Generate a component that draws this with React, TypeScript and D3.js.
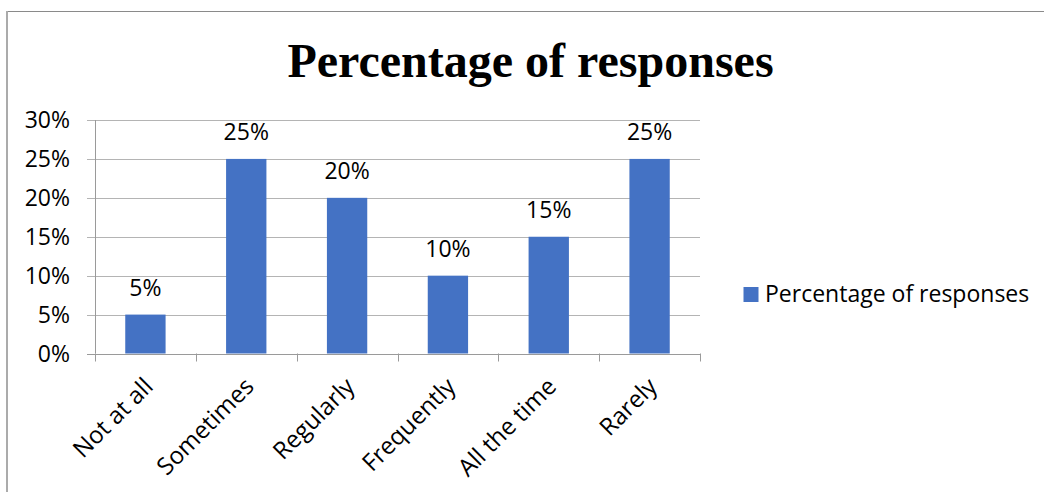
import React from "react";
import * as d3 from "d3";

// Survey categories and the share of responses for each
const categories: string[] = ["Not at all", "Sometimes", "Regularly", "Frequently", "All the time", "Rarely"];
const responseShares: number[] = [0.05, 0.25, 0.2, 0.1, 0.15, 0.25];
const yTicks: number[] = [0, 0.05, 0.1, 0.15, 0.2, 0.25, 0.3];
const seriesName = "Percentage of responses";
const chartTitle = "Percentage of responses";

const W = 1044;
const H = 492;
const plot = { left: 95, right: 700, top: 120, bottom: 353.5 };
const BAR = "#4472C4";
const GRID = "#b4b4b4";
const AXIS = "#9a9a9a";
const SANS = "'Open Sans', sans-serif";
const fmt = d3.format(".0%");

export default function App() {
  const x = d3
    .scaleBand<string>()
    .domain(categories)
    .range([plot.left, plot.right])
    .paddingInner(0)
    .paddingOuter(0);
  const y = d3.scaleLinear().domain([0, 0.3]).range([plot.bottom, plot.top]);
  const bw = x.bandwidth() / 2.5;

  const boundaries = categories.map((c) => x(c) as number).concat([plot.right]);

  return (
    <svg
      width={W}
      height={H}
      viewBox={`0 0 ${W} ${H}`}
      style={{ position: "absolute", left: 0, top: 0, background: "#fff" }}
    >
      <rect x={0} y={0} width={W} height={H} fill="#fff" />
      {/* chart frame */}
      <line x1={6} x2={W} y1={11.5} y2={11.5} stroke="#8a8a8a" strokeWidth={1} />
      <line x1={7} x2={7} y1={11} y2={H} stroke="#ababab" strokeWidth={2} />

      <text
        x={530.5}
        y={77}
        textAnchor="middle"
        fontFamily="'Liberation Serif', 'Times New Roman', serif"
        fontWeight="bold"
        fontSize={48}
        fill="#000"
      >
        {chartTitle}
      </text>

      {/* gridlines with left tick marks */}
      {yTicks.map((t) => (
        <line
          key={`g${t}`}
          x1={plot.left - 8}
          x2={plot.right}
          y1={Math.round(y(t)) + 0.5}
          y2={Math.round(y(t)) + 0.5}
          stroke={t === 0 ? AXIS : GRID}
          strokeWidth={1}
        />
      ))}
      {yTicks.map((t) => (
        <text
          key={`yl${t}`}
          x={70}
          y={y(t)}
          dy="0.36em"
          textAnchor="end"
          fontFamily={SANS}
          fontSize={23}
          fill="#000"
        >
          {fmt(t)}
        </text>
      ))}
      {/* value axis line */}
      <line x1={plot.left + 0.5} x2={plot.left + 0.5} y1={plot.top} y2={plot.bottom} stroke={AXIS} strokeWidth={1} />

      {/* category axis ticks */}
      {boundaries.map((b, i) => (
        <line
          key={`xt${i}`}
          x1={Math.round(b) + 0.5}
          x2={Math.round(b) + 0.5}
          y1={plot.bottom}
          y2={plot.bottom + 8}
          stroke={AXIS}
          strokeWidth={1}
        />
      ))}

      {/* bars */}
      {categories.map((c, i) => {
        const cx = (x(c) as number) + x.bandwidth() / 2;
        return (
          <rect
            key={`b${c}`}
            x={cx - bw / 2}
            y={y(responseShares[i])}
            width={bw}
            height={y(0) - y(responseShares[i])}
            fill={BAR}
          />
        );
      })}

      {/* value labels */}
      {categories.map((c, i) => {
        const cx = (x(c) as number) + x.bandwidth() / 2;
        return (
          <text
            key={`v${c}`}
            x={cx}
            y={y(responseShares[i]) - 18.5}
            textAnchor="middle"
            fontFamily={SANS}
            fontSize={23}
            fill="#000"
          >
            {fmt(responseShares[i])}
          </text>
        );
      })}

      {/* rotated category labels */}
      {categories.map((c) => {
        const cx = (x(c) as number) + x.bandwidth() / 2;
        return (
          <text
            key={`xl${c}`}
            transform={`translate(${cx + 9},${388}) rotate(-45)`}
            textAnchor="end"
            fontFamily={SANS}
            fontSize={24}
            fill="#000"
          >
            {c}
          </text>
        );
      })}

      {/* legend */}
      <rect x={743.5} y={287} width={15} height={15} fill={BAR} />
      <text x={765} y={301.7} fontFamily={SANS} fontSize={23} fill="#000">
        {seriesName}
      </text>
    </svg>
  );
}
